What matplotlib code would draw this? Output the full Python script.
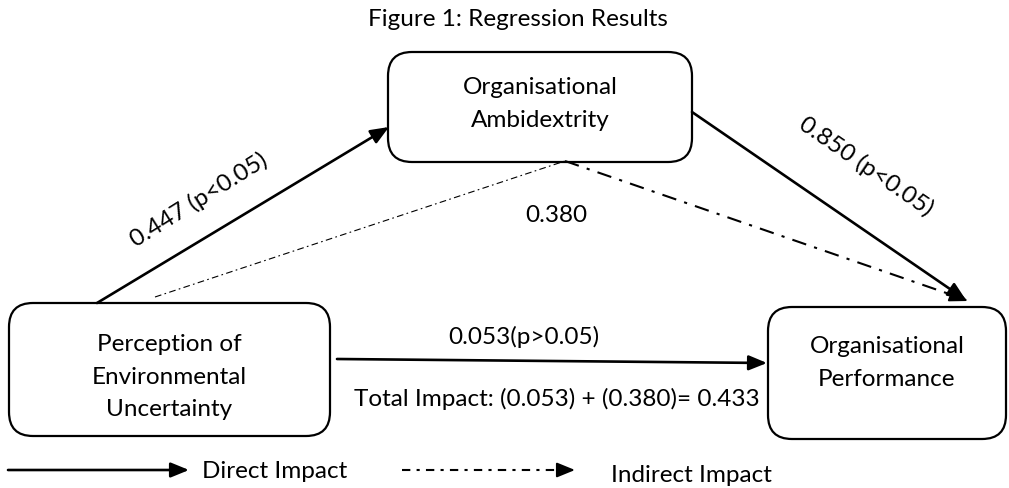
import matplotlib
matplotlib.use("Agg")
import matplotlib.pyplot as plt
from matplotlib.patches import FancyBboxPatch, Rectangle

# data
title = "Figure 1: Regression Results"
node_labels = ["Perception of\nEnvironmental\nUncertainty",
               "Organisational\nAmbidextrity",
               "Organisational\nPerformance"]
coef_a = "0.447 (p<0.05)"
coef_b = "0.850 (p<0.05)"
coef_indirect = "0.380"
coef_direct = "0.053(p>0.05)"
total_text = "Total Impact: (0.053) + (0.380)= 0.433"
legend_labels = ["Direct Impact", "Indirect Impact"]

plt.rcParams['font.family'] = ['Lato', 'DejaVu Sans']
fs = 17.5

fig = plt.figure(figsize=(10.09, 4.88), dpi=100)
ax = fig.add_axes([0, 0, 1, 1])
ax.set_xlim(0, 1009)
ax.set_ylim(488, 0)
ax.axis('off')

# boxes (x0, y0, x1, y1) and text centre y
boxes = [(9, 303, 330, 436), (388, 52, 692, 162), (768, 307, 1006, 439)]
text_y = [377, 104, 363]
for (x0, y0, x1, y1), ty, lab in zip(boxes, text_y, node_labels):
    p = FancyBboxPatch((x0, y0), x1 - x0, y1 - y0,
                       boxstyle="round,pad=0,rounding_size=24",
                       fc='white', ec='black', lw=1.6, zorder=2)
    ax.add_patch(p)
    t = ax.text((x0 + x1) / 2, ty, lab, ha='center', va='center',
                fontsize=fs, linespacing=1.65, zorder=3)
    if lab.startswith("Perception"):
        # the descender of the last line is cut off in the source
        clip = Rectangle((x0, y0), x1 - x0, 419 - y0, transform=ax.transData)
        t.set_clip_path(clip)

head = '-|>,head_length=1.1,head_width=0.45'
solid = dict(arrowstyle=head, color='black', lw=1.9, shrinkA=0, shrinkB=0)

# direct paths
ax.annotate('', xy=(389, 127), xytext=(97, 303), arrowprops=solid)
ax.annotate('', xy=(966, 300), xytext=(692, 112), arrowprops=solid)
ax.annotate('', xy=(767, 363), xytext=(337, 359), arrowprops=solid)

# indirect path
ax.plot([155, 565], [297, 161], color='black', lw=0.8, ls=(0, (6, 3, 1.5, 3)))
ax.plot([565, 955], [161, 296], color='black', lw=1.5, ls=(0, (7, 4, 1.5, 4)))
ax.annotate('', xy=(968, 301), xytext=(950, 294),
            arrowprops=dict(arrowstyle=head, color='black', lw=1.5,
                            shrinkA=0, shrinkB=0))

ax.text(518, 19, title, ha='center', va='center', fontsize=fs)
ax.text(199, 200, coef_a, ha='center', va='center', fontsize=fs, rotation=32)
ax.text(866, 166, coef_b, ha='center', va='center', fontsize=fs, rotation=-34.5)
ax.text(556, 215, coef_indirect, ha='center', va='center', fontsize=fs)
ax.text(524, 337, coef_direct, ha='center', va='center', fontsize=fs)
ax.text(557, 399, total_text, ha='center', va='center', fontsize=fs)

# legend
ax.annotate('', xy=(189, 470), xytext=(8, 470), arrowprops=solid)
ax.text(202, 472, legend_labels[0], ha='left', va='center', fontsize=fs)
ax.plot([402, 560], [470, 470], color='black', lw=1.5, ls=(0, (4, 3, 1.5, 3)))
ax.annotate('', xy=(575, 470), xytext=(558, 470),
            arrowprops=dict(arrowstyle=head, color='black', lw=1.5,
                            shrinkA=0, shrinkB=0))
ax.text(611, 476, legend_labels[1], ha='left', va='center', fontsize=fs)

fig.savefig("out.png", dpi=100)
